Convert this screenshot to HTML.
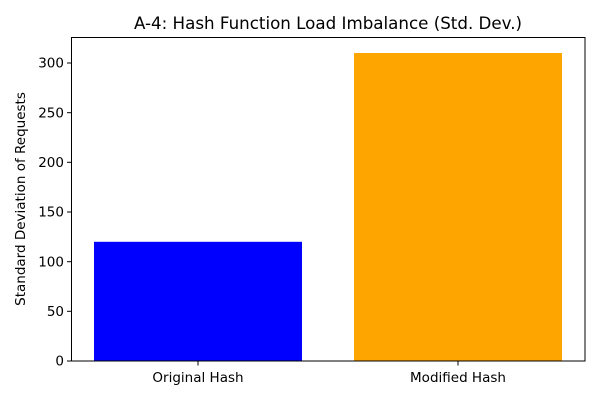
<!DOCTYPE html>
<html><head><style>body{margin:0;background:#fff}svg{display:block}text{font-family:"DejaVu Sans","Liberation Sans",sans-serif;fill:#000}</style></head>
<body>
<svg width="600" height="400" xmlns="http://www.w3.org/2000/svg">
<rect x="94" y="241.8" width="208" height="119.2" fill="#0000ff"/>
<rect x="354" y="53" width="208" height="308" fill="#ffa500"/>
<rect x="71.5" y="37.5" width="513.5" height="323.5" fill="none" stroke="#000" stroke-width="1"/>
<g stroke="#000" stroke-width="1">
<line x1="67" x2="71.5" y1="361" y2="361"/>
<line x1="67" x2="71.5" y1="311.3" y2="311.3"/>
<line x1="67" x2="71.5" y1="261.7" y2="261.7"/>
<line x1="67" x2="71.5" y1="212" y2="212"/>
<line x1="67" x2="71.5" y1="162.3" y2="162.3"/>
<line x1="67" x2="71.5" y1="112.7" y2="112.7"/>
<line x1="67" x2="71.5" y1="63" y2="63"/>
<line x1="198" x2="198" y1="361" y2="365.5"/>
<line x1="458" x2="458" y1="361" y2="365.5"/>
</g>
<g font-size="13.5" text-anchor="end">
<text x="64" y="365.7">0</text>
<text x="64" y="316">50</text>
<text x="64" y="266.4">100</text>
<text x="64" y="216.7">150</text>
<text x="64" y="167">200</text>
<text x="64" y="117.4">250</text>
<text x="64" y="67.7">300</text>
</g>
<g font-size="13.5" text-anchor="middle">
<text x="198" y="382">Original Hash</text>
<text x="458" y="382">Modified Hash</text>
</g>
<text x="0" y="0" font-size="13.5" text-anchor="middle" transform="translate(25,199) rotate(-90)">Standard Deviation of Requests</text>
<text x="328" y="29" font-size="16.7" text-anchor="middle">A-4: Hash Function Load Imbalance (Std. Dev.)</text>
</svg>
</body></html>
